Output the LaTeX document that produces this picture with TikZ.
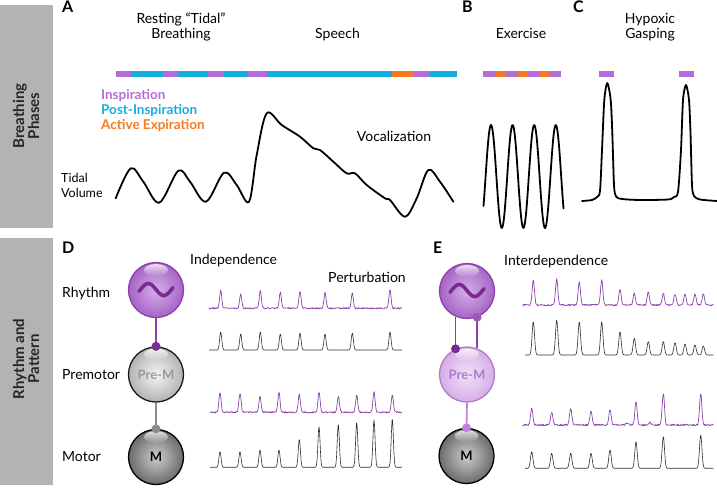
\documentclass[tikz,border=0pt]{standalone}
\usepackage{fontspec}
\setmainfont{Lato}
\usetikzlibrary{fadings}
\definecolor{insp}{HTML}{B46DD6}
\definecolor{post}{HTML}{14ADE0}
\definecolor{actx}{HTML}{F47A20}
\definecolor{panel}{HTML}{B3B3B3}
\definecolor{trp}{HTML}{8B40AB}
\definecolor{trk}{HTML}{2E2E2E}
\definecolor{pline}{HTML}{8D3FAE}
\definecolor{pdark}{HTML}{7A2B92}
\definecolor{pmid}{HTML}{9A5AB0}
\definecolor{plight}{HTML}{C27DE0}
\definecolor{gline}{HTML}{8C8C8C}
\definecolor{pmtext}{HTML}{9A9A9A}
\definecolor{pmtextE}{HTML}{B07ACB}
\pgfmathdeclarefunction{spk}{3}{%
  \begingroup
  \pgfmathparse{min(abs(#1-#2)/#3,3)}%
  \pgfmathparse{exp(-\pgfmathresult*\pgfmathresult)}%
  \pgfmathsmuggle\pgfmathresult
  \endgroup}
\newcommand\mkexpr[3]{%
  \gdef\myexpr{#1}%
  \foreach \cc/\hh in {#3}{%
    \xdef\myexpr{\unexpanded\expandafter{\myexpr}-\hh*spk(\noexpand\x,\cc,#2)}}%
}
\newcommand\hilite[1]{\fill[white, opacity=0.8, path fading=south] ([yshift=20pt]#1.center) ellipse [x radius=12pt, y radius=6pt];}
\begin{document}
\begin{tikzpicture}[x=1pt,y=-1pt,
  lbl/.style={inner sep=0pt, font=\fontsize{14}{16}\selectfont},
  leg/.style={inner sep=0pt, font=\bfseries\fontsize{13.5}{15}\selectfont, anchor=base west},
  panlbl/.style={inner sep=0pt, font=\bfseries\fontsize{16}{18}\selectfont, anchor=base west},
  sidelbl/.style={inner sep=0pt, rotate=90, align=center, font=\bfseries\fontsize{15}{15}\selectfont, text=black!85},
  curve/.style={line width=1.8pt, line join=round, line cap=round},
  sphere/.style={circle, inner sep=0pt, minimum size=55pt, line width=1.3pt},
  rsph/.style={sphere, draw=pline, inner color=white!45!insp, outer color=insp!92!black},
  psphD/.style={sphere, draw=black!90, inner color=white!96!black, outer color=black!30, text=pmtext, font=\bfseries\fontsize{13}{14}\selectfont},
  msph/.style={sphere, draw=black, inner color=black!20, outer color=black!58, font=\bfseries\fontsize{13}{14}\selectfont},
  psphE/.style={sphere, draw=pmtextE, inner color=white!80!insp, outer color=white!45!insp, text=pmtextE, font=\bfseries\fontsize{13}{14}\selectfont},
  trpur/.style={trp, line width=0.7pt, line join=round},
  trblk/.style={trk, line width=0.6pt, line join=round},
  tilde/.style={pdark, line width=3.6pt, line cap=round}
]
\useasboundingbox (0,0) rectangle (717,488);
% side panels
\fill[panel] (0,5) rectangle (53,228.3);
\fill[panel] (0,238.3) rectangle (53,485);
\node[sidelbl] (sideA) at (26,116) {Breathing\\Phases};
\node[sidelbl] (sideB) at (26,359) {Rhythm and\\Pattern};
% panel letters
\node[panlbl] (lA) at (62,12) {A};
\node[panlbl] (lB) at (462,12) {B};
\node[panlbl] (lC) at (573,12) {C};
\node[panlbl] (lD) at (62,253) {D};
\node[panlbl] (lE) at (433,253) {E};
% titles
\node[lbl, anchor=base] (t1) at (181,23.3) {Resting “Tidal”};
\node[lbl, anchor=base] (t2) at (181,38.5) {Breathing};
\node[lbl, anchor=base] (t3) at (337.5,38.5) {Speech};
\node[lbl, anchor=base] (t4) at (521,38.5) {Exercise};
\node[lbl, anchor=base] (t5) at (650,23.3) {Hypoxic};
\node[lbl, anchor=base] (t6) at (650,38.5) {Gasping};
\node[lbl, anchor=base west] (voc) at (356.7,141.7) {Vocalization};
\node[lbl, anchor=base west, font=\fontsize{12.5}{15}\selectfont] (tv1) at (61,182.7) {Tidal};
\node[lbl, anchor=base west, font=\fontsize{12.5}{15}\selectfont] (tv2) at (61,197.5) {Volume};
% legend
\node[leg, text=insp] (g1) at (101,99.3) {Inspiration};
\node[leg, text=post] (g2) at (101,114.5) {Post-Inspiration};
\node[leg, text=actx] (g3) at (101,129.5) {Active Expiration};
% phase bars
\fill[post] (116,70.5) rectangle (457,76.5);
\foreach \a/\b in {116/131,163/178,208/224,248/267,414/430} \fill[insp] (\a,70.5) rectangle (\b,76.5);
\fill[actx] (392,70.5) rectangle (414,76.5);
\fill[insp] (483,70.5) rectangle (561,76.5);
\foreach \a/\b in {496/506,518/528,539/549} \fill[actx] (\a,70.5) rectangle (\b,76.5);
\fill[insp] (599,70.5) rectangle (614,76.5);
\fill[insp] (679,70.5) rectangle (694,76.5);
% tidal volume curve
\draw[curve] plot[smooth, tension=0.55] coordinates {(115.7,198.3) (130.7,168.3) (143.3,181.7) (159.3,202.7) (178.3,170.7) (190,181.7) (206,201.7) (224,172.7) (236.7,185) (249,201.7) (256.7,155) (266.7,113.3) (281.7,125) (300,136.7) (313.3,148.3) (320,150) (333.3,161.7) (346.7,173.3) (355,173.3) (366.7,185) (385,198.3) (390,200) (405,216.7) (416.7,198.3) (428.3,170) (440,181.7) (453.3,201.7)};
% exercise
\draw[curve] plot[domain=483.5:563.5, samples=161, smooth] (\x, {176.5-51.5*cos((\x-491)*16.6667)});
% gasping
\draw[curve] plot[smooth, tension=0.45] coordinates {(582,201) (592,200) (597,197) (600,191) (602,150) (604.3,100) (607.3,83) (610.7,100) (612.3,133) (614,185) (616,196.5) (622,199) (640,200) (668,199.5) (674,197) (678,192) (681,150) (683,100) (686,85) (689,100) (690.5,133) (692,185) (694,196) (700,199.5) (717,201)};
% bottom labels
\node[lbl, anchor=base west] (ind) at (190,264.3) {Independence};
\node[lbl, anchor=base west] (pert) at (328,282.7) {Perturbation};
\node[lbl, anchor=base west] (inter) at (504,265) {Interdependence};
\node[lbl, anchor=base west] (rh) at (62,297.7) {Rhythm};
\node[lbl, anchor=base west] (pm) at (62,379.3) {Premotor};
\node[lbl, anchor=base west] (mo) at (62,461) {Motor};
% D spheres
\node[rsph] (rD) at (156,290) {};
\node[psphD] (pD) at (156,374.5) {Pre-M};
\node[msph] (mD) at (156,457) {M};
\draw[pline, line width=2pt] (rD.south) -- (pD.north);
\draw[gline, line width=1.6pt] (pD.south) -- (mD.north);
\hilite{rD}\hilite{pD}\hilite{mD}
\fill[pdark] (pD.north) circle (4.5pt);
\fill[gline] (mD.north) circle (4.5pt);
\draw[tilde] plot[domain=-1.1:1.1, samples=40, smooth] ({156+15.5*\x}, {289.5+6*sin(180*\x)});
% E spheres
\node[rsph] (rE) at (467,291) {};
\node[psphE] (pE) at (467,374.5) {Pre-M};
\node[msph] (mE) at (466.5,456) {M};
\draw[pline, line width=1.7pt] (rE.-114) -- (pE.114);
\draw[pline, line width=1.7pt] (rE.-69) -- (pE.69);
\draw[plight, line width=1.7pt] (pE.south) -- (mE.north);
\hilite{rE}\hilite{pE}\hilite{mE}
\fill[pdark] (pE.114) circle (4.5pt);
\fill[pmid] (rE.-69) circle (4.5pt);
\fill[plight] (mE.north) circle (4.5pt);
\draw[tilde] plot[domain=-1.1:1.1, samples=40, smooth] ({467+15.5*\x}, {290.5+6*sin(180*\x)});
% D traces
\mkexpr{308.3}{1.5}{220.7/18.3,240.7/14,260.3/18.3,280.3/16,300/16.7,325/16,352.3/15,390/18.3}
\draw[trpur] plot[domain=209:402, samples=387] (\x, {\myexpr+0.7*rand});
\mkexpr{350}{1.5}{220.7/18,240.7/16,260.3/18,280.3/16,300/17,325/16,352.3/17,390/18}
\draw[trblk] plot[domain=209:402, samples=387] (\x, {\myexpr});
\mkexpr{412.3}{1.5}{220/20,240/19,260/16,279/20,299.3/18,319/20,338.3/16,356.7/17,374/20,392.3/17}
\draw[trpur] plot[domain=210:402, samples=385] (\x, {\myexpr+0.7*rand});
\mkexpr{467.3}{1.5}{220/15.6,240/15.6,260/17.3,279/17.3,299.3/28,319/40.6,338.3/43,356.7/45,374/47.3,392.3/48.3}
\draw[trblk] plot[domain=210:402, samples=385] (\x, {\myexpr});
% E traces
\mkexpr{305}{1.6}{533.3/25,556.7/25.7,579.3/23.3,601.7/25,620/15.7,634.3/11.7,648.3/12.7,663.3/11.7,675/11,685/11,695/11,703.3/11}
\draw[trpur] plot[domain=522.7:713.3, samples=382] (\x, {\myexpr+0.7*rand});
\mkexpr{355}{1.7}{533.3/33.3,556.7/35,579.3/33.3,601.7/33.3,620/23.3,634.3/16.7,648.3/13.3,663.3/13.3,675/12.3,685/11,695/10,703.3/9}
\draw[trblk] plot[domain=525:713.3, samples=377] (\x, {\myexpr});
\mkexpr{425}{1.6}{531.7/16.7,551.7/12.7,570.7/16.7,591/14.3,610/15.7,636/23.3,663.3/31.7,700.7/31.7,650/3,627/2}
\draw[trpur] plot[domain=522.7:713.3, samples=382] (\x, {\myexpr+0.8*rand});
\mkexpr{468.3}{1.7}{531.7/16.7,551.7/15,570.7/15,591/15,610/18.3,636/26.7,663.3/31.7,700.7/33.3}
\draw[trblk] plot[domain=525:713.3, samples=377] (\x, {\myexpr});
\end{tikzpicture}
\end{document}
